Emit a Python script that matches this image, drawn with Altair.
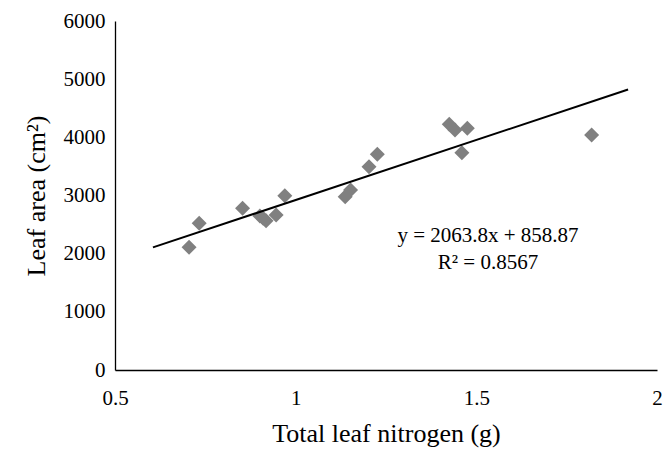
import altair as alt
import pandas as pd

nitrogen = [0.705, 0.733, 0.853, 0.901, 0.910, 0.918, 0.946, 0.970,
            1.137, 1.152, 1.203, 1.226, 1.425, 1.441, 1.460, 1.475, 1.819]
leaf_area = [2109, 2522, 2780, 2648, 2608, 2567, 2665, 2997,
             2979, 3094, 3495, 3708, 4224, 4126, 3736, 4155, 4040]

slope = 2063.8
intercept = 858.87
trend_x = [0.605, 1.92]
eq_text = "y = 2063.8x + 858.87"
r2_text = "R\u00b2 = 0.8567"

points = pd.DataFrame({"x": nitrogen, "y": leaf_area})
trend = pd.DataFrame({"x": trend_x, "y": [slope * v + intercept for v in trend_x]})

FONT = "Liberation Serif"

xscale = alt.Scale(domain=[0.5, 2], nice=False, zero=False)
yscale = alt.Scale(domain=[0, 6000], nice=False)

xaxis = alt.Axis(title="Total leaf nitrogen (g)", values=[0.5, 1, 1.5, 2],
                 labelExpr="datum.value == 0.5 ? '0.5' : datum.value == 1.5 ? '1.5' : format(datum.value, 'd')",
                 grid=False, ticks=False, domainColor="black", domainWidth=1.3,
                 labelFont=FONT, labelFontSize=21, labelColor="black", labelPadding=17,
                 titleFont=FONT, titleFontSize=26, titleFontWeight="normal", titleColor="black",
                 titlePadding=12, labelFlush=False)
yaxis = alt.Axis(title="Leaf area (cm\u00b2)", values=[0, 1000, 2000, 3000, 4000, 5000, 6000],
                 format="d", grid=False, ticks=False, domainColor="black", domainWidth=1.3,
                 labelFont=FONT, labelFontSize=21, labelColor="black", labelPadding=10,
                 titleFont=FONT, titleFontSize=26, titleFontWeight="normal", titleColor="black",
                 titlePadding=14, labelFlush=False)

pts = alt.Chart(points).mark_point(shape="diamond", filled=True, size=225, color="#808080", opacity=1).encode(
    x=alt.X("x:Q", scale=xscale, axis=xaxis),
    y=alt.Y("y:Q", scale=yscale, axis=yaxis),
)

line = alt.Chart(trend).mark_line(color="black", strokeWidth=2).encode(
    x=alt.X("x:Q", scale=xscale),
    y=alt.Y("y:Q", scale=yscale),
)

txt1 = alt.Chart(pd.DataFrame({"t": [eq_text]})).mark_text(
    font=FONT, fontSize=21, color="black", align="center", baseline="middle").encode(
    x=alt.value(373), y=alt.value(215), text="t:N")
txt2 = alt.Chart(pd.DataFrame({"t": [r2_text]})).mark_text(
    font=FONT, fontSize=21, color="black", align="center", baseline="middle").encode(
    x=alt.value(373), y=alt.value(242), text="t:N")

chart = alt.layer(pts, line, txt1, txt2).properties(
    width=542, height=349,
    autosize=alt.AutoSizeParams(type="none"),
    padding={"left": 115, "top": 21, "right": 7, "bottom": 83},
    background="white",
).configure_view(stroke=None)

chart.save("out.html", embed_options={"renderer": "svg", "actions": False})
